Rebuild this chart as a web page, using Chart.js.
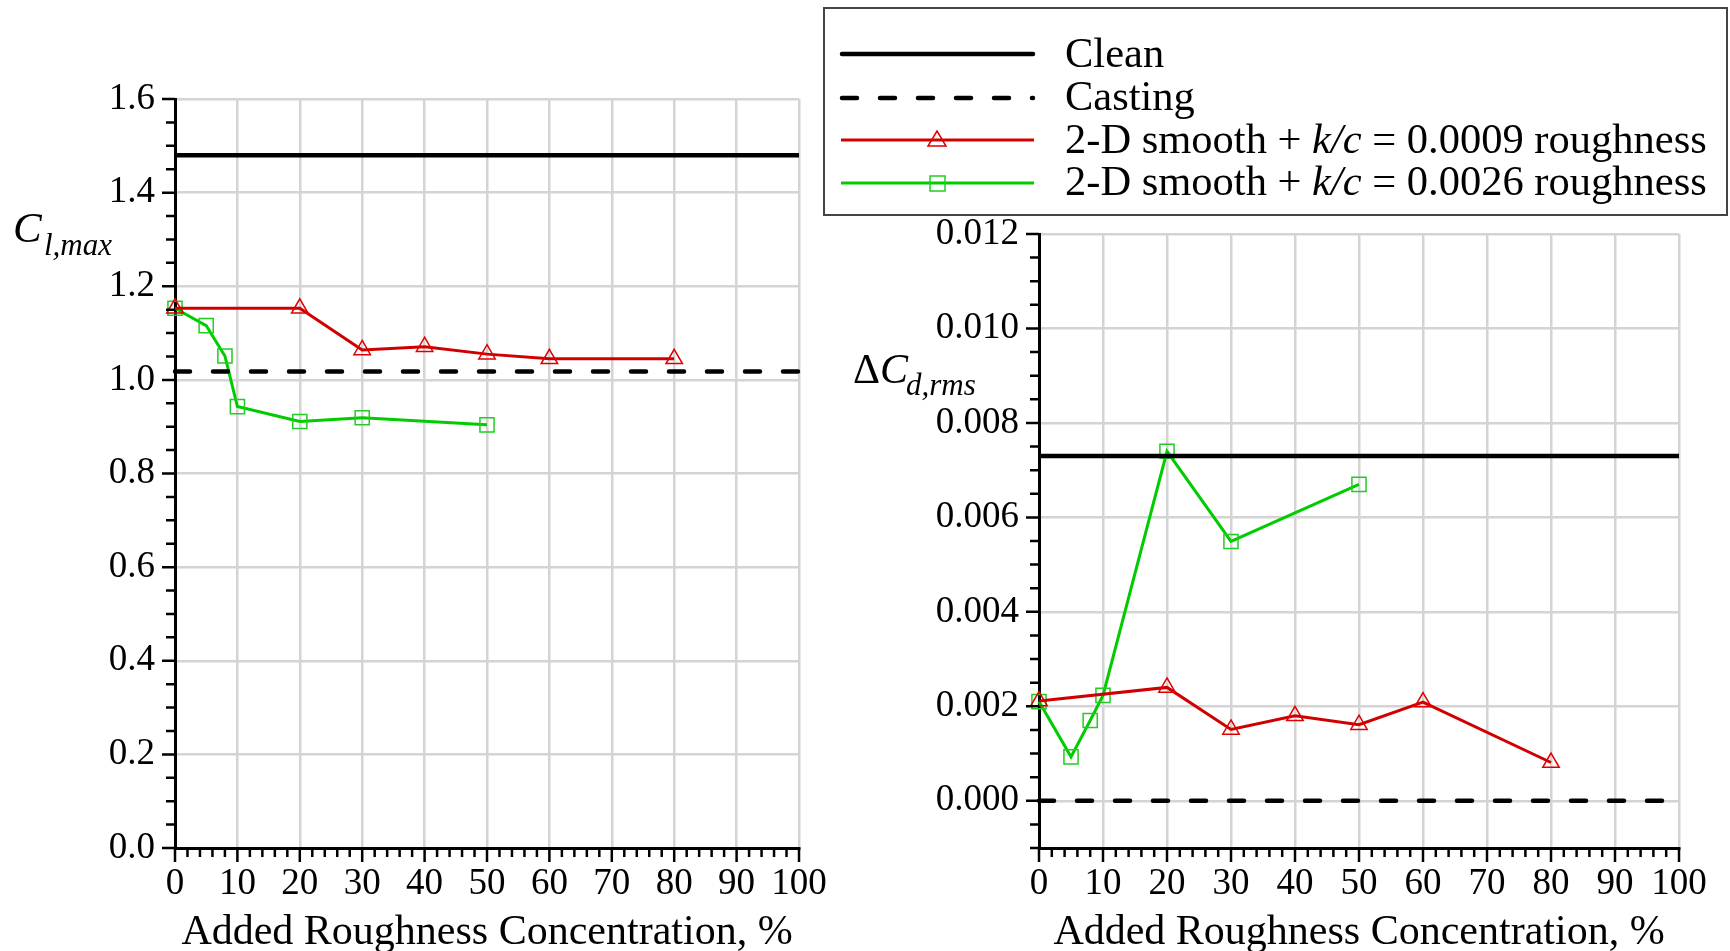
<!DOCTYPE html>
<html>
<head>
<meta charset="utf-8">
<script src="https://cdn.jsdelivr.net/npm/chart.js@4.4.1/dist/chart.umd.min.js"></script>
<style>
  html, body { margin: 0; padding: 0; background: #fff; overflow: hidden; }
  #wrap { position: relative; width: 1730px; height: 951px; }
  canvas { position: absolute; top: 0; }
  #left { left: 0; }
  #right { left: 830px; }
  #overlay { position: absolute; left: 0; top: 0; pointer-events: none; }
  text { font-family: "Liberation Serif", "Times New Roman", serif; fill: #000; }
</style>
</head>
<body>
<div id="wrap">
  <canvas id="left" width="830" height="951"></canvas>
  <canvas id="right" width="900" height="951"></canvas>
  <svg id="overlay" width="1730" height="951">
    <!-- y axis titles -->
    <text x="13" y="242" font-size="43" font-style="italic">C</text>
    <text x="44" y="255" font-size="31" font-style="italic">l,max</text>
    <text x="853" y="383" font-size="42">Δ<tspan font-style="italic">C</tspan></text>
    <text x="906" y="395" font-size="31" font-style="italic">d,rms</text>

    <!-- legend -->
    <rect x="824" y="8" width="903" height="207" fill="#fff" stroke="#444" stroke-width="2"/>
    <line x1="842" y1="54" x2="1033" y2="54" stroke="#000" stroke-width="4.5" stroke-linecap="round"/>
    <line x1="842" y1="98" x2="1033" y2="98" stroke="#000" stroke-width="4.5" stroke-linecap="round" stroke-dasharray="15 23"/>
    <line x1="841" y1="140" x2="1034" y2="140" stroke="#d40000" stroke-width="3"/>
    <polygon points="937,131 946,146 928,146" fill="none" stroke="#e00000" stroke-width="1.5"/>
    <line x1="841" y1="183" x2="1034" y2="183" stroke="#00cc00" stroke-width="3"/>
    <rect x="930" y="176" width="15" height="15" fill="none" stroke="#22cc22" stroke-width="1.5"/>
    <text x="1065" y="67" font-size="42.5">Clean</text>
    <text x="1065" y="110" font-size="42.5">Casting</text>
    <text x="1065" y="153" font-size="42.5">2-D smooth + <tspan font-style="italic">k/c</tspan> = 0.0009 roughness</text>
    <text x="1065" y="195" font-size="42.5">2-D smooth + <tspan font-style="italic">k/c</tspan> = 0.0026 roughness</text>
  </svg>
</div>
<script>
// x positions (added roughness concentration, %)
const xRed = [0, 20, 30, 40, 50, 60, 80];
const xGreen = [0, 5, 8, 10, 20, 30, 50];
const xRef = [0, 100];

// Cl,max
const clmaxRed = [1.153, 1.153, 1.064, 1.071, 1.055, 1.045, 1.045];
const clmaxGreen = [1.153, 1.116, 1.051, 0.943, 0.911, 0.919, 0.904];
const clmaxClean = 1.48;
const clmaxCasting = 1.018;

// delta Cd,rms
const dcdRed = [0.00211, 0.0024, 0.00151, 0.0018, 0.00161, 0.00209, 0.00081];
const dcdGreen = [0.0021, 0.00093, 0.0017, 0.00223, 0.0074, 0.00549, 0.0067];
const dcdClean = 0.0073;
const dcdCasting = 0.0;

const xTickLabels = [0, 10, 20, 30, 40, 50, 60, 70, 80, 90, 100];

const FONT = '"Liberation Serif", "Times New Roman", serif';
const GRID = '#d4d4d4';

function pts(xs, ys) {
  return xs.map((x, i) => ({ x: x, y: ys[i] }));
}
function flat(v) {
  return xRef.map(x => ({ x: x, y: v }));
}
function isMul(v, step) {
  return Math.abs(v / step - Math.round(v / step)) < 1e-6;
}

function makeDatasets(red, green, clean, casting) {
  return [
    { data: flat(clean), borderColor: '#000', borderWidth: 4.5, pointRadius: 0 },
    { data: flat(casting), borderColor: '#000', borderWidth: 4.5, pointRadius: 0,
      borderDash: [15, 23], borderCapStyle: 'round' },
    { data: pts(xRed, red), borderColor: '#d00000', borderWidth: 3,
      pointStyle: 'triangle', pointRadius: 9.5, pointBorderWidth: 1.5,
      pointBorderColor: '#e00000', pointBackgroundColor: 'rgba(0,0,0,0)' },
    { data: pts(xGreen, green), borderColor: '#00cc00', borderWidth: 3,
      pointStyle: 'rect', pointRadius: 10, pointBorderWidth: 1.5,
      pointBorderColor: '#22cc22', pointBackgroundColor: 'rgba(0,0,0,0)' }
  ];
}

// tick marks: longer on labelled values, shorter on the minor ones
const tickMarks = {
  id: 'tickMarks',
  afterDraw(chart, args, opts) {
    const c = chart.ctx, a = chart.chartArea;
    const xs = chart.scales.x, ys = chart.scales.y;
    c.save();
    c.strokeStyle = '#000';
    c.lineWidth = 2.5;
    c.beginPath();
    xs.ticks.forEach(t => {
      const p = xs.getPixelForValue(t.value);
      const len = isMul(t.value, 10) ? 14 : 9;
      c.moveTo(p, a.bottom);
      c.lineTo(p, a.bottom + len);
    });
    ys.ticks.forEach(t => {
      const p = ys.getPixelForValue(t.value);
      const len = isMul(t.value, opts.major) ? 13 : 9;
      c.moveTo(a.left, p);
      c.lineTo(a.left - len, p);
    });
    c.stroke();
    c.restore();
  }
};

function makeOptions(cfg) {
  return {
    responsive: false,
    animation: false,
    layout: { padding: { left: 0, top: cfg.top, right: cfg.right, bottom: 0 } },
    plugins: { legend: { display: false }, tooltip: { enabled: false }, tickMarks: { major: cfg.major } },
    elements: { line: { tension: 0 } },
    scales: {
      x: {
        type: 'linear', min: 0, max: 100,
        afterFit: s => { s.height = 103; },
        ticks: {
          stepSize: 2, autoSkip: false, maxRotation: 0, padding: 0, color: '#000',
          // tall line box pushes the labels below the tick marks without widening the side padding
          font: { family: FONT, size: 37, lineHeight: 73 / 37 },
          callback: v => (xTickLabels.includes(v) ? String(v) : '')
        },
        grid: {
          drawTicks: false, lineWidth: 2.5,
          color: ctx => (ctx.tick && isMul(ctx.tick.value, 10) ? GRID : 'rgba(0,0,0,0)')
        },
        border: { color: '#000', width: 3 },
        title: {
          display: true, text: 'Added Roughness Concentration, %', color: '#000',
          font: { family: FONT, size: 42, lineHeight: 1 }, padding: { top: 0, bottom: -3 }
        }
      },
      y: {
        type: 'linear', min: cfg.min, max: cfg.max,
        afterFit: s => { s.width = cfg.yWidth; },
        ticks: {
          stepSize: cfg.minor, autoSkip: false, padding: 20, color: '#000',
          font: { family: FONT, size: 37, lineHeight: 1 },
          callback: v => (isMul(v, cfg.major) && v >= 0 ? v.toFixed(cfg.digits) : '')
        },
        grid: {
          drawTicks: false, lineWidth: 2.5,
          color: ctx => (ctx.tick && isMul(ctx.tick.value, cfg.major) && ctx.tick.value >= 0 ? GRID : 'rgba(0,0,0,0)')
        },
        border: { color: '#000', width: 3 }
      }
    },
    datasets: { line: { clip: false } }
  };
}

new Chart(document.getElementById('left'), {
  type: 'line',
  data: { datasets: makeDatasets(clmaxRed, clmaxGreen, clmaxClean, clmaxCasting) },
  options: makeOptions({ top: 99, right: 31, yWidth: 175, min: 0, max: 1.6, minor: 0.05, major: 0.2, digits: 1 }),
  plugins: [tickMarks]
});

new Chart(document.getElementById('right'), {
  type: 'line',
  data: { datasets: makeDatasets(dcdRed, dcdGreen, dcdClean, dcdCasting) },
  options: makeOptions({ top: 234, right: 51, yWidth: 209, min: -0.001, max: 0.012, minor: 0.0005, major: 0.002, digits: 3 }),
  plugins: [tickMarks]
});
</script>
</body>
</html>
